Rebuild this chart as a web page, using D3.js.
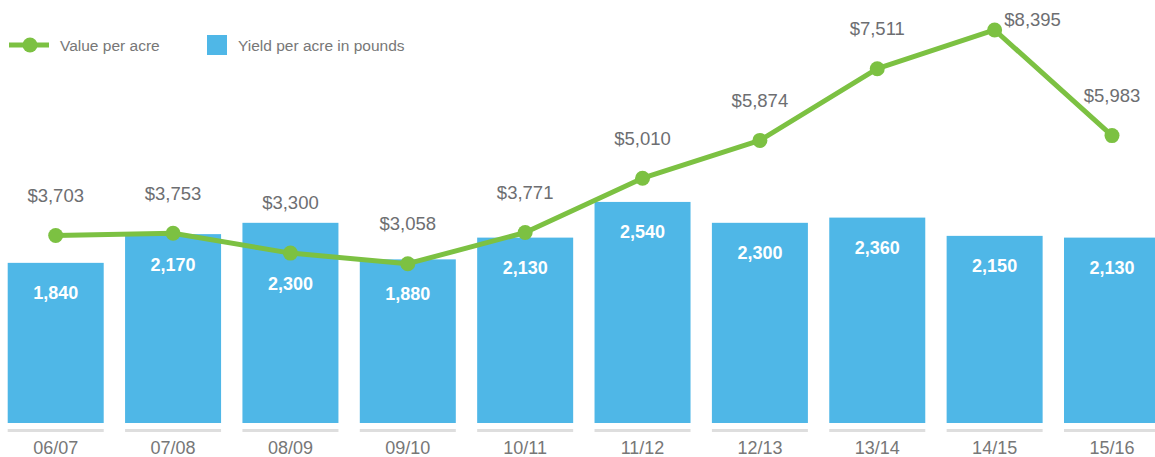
<!DOCTYPE html>
<html><head><meta charset="utf-8">
<script src="https://cdn.jsdelivr.net/npm/d3@7"></script>
<style>body{margin:0;background:#fff}svg{display:block}</style>
</head><body>
<script>
const seasons = ["06/07","07/08","08/09","09/10","10/11","11/12","12/13","13/14","14/15","15/16"];
const yieldPerAcre = [1840,2170,2300,1880,2130,2540,2300,2360,2150,2130];
const valuePerAcre = [3703,3753,3300,3058,3771,5010,5874,7511,8395,5983];
const legendLabels = ["Value per acre","Yield per acre in pounds"];

const W=1155,H=457;
const green="#7cc142", blue="#4fb7e7", grey="#6d6e71";
const svg=d3.select("body").append("svg").attr("width",W).attr("height",H);
const font="'Liberation Sans', Arial, Helvetica, sans-serif";

const x=d3.scaleBand().domain(seasons).range([7.7,1160]).paddingInner(0.182).paddingOuter(0);
const yBar=d3.scaleLinear().domain([0,4860]).range([423,0]);
const yLine=d3.scaleLinear().domain([0,9000]).range([397.6,3.5]);

// bars
svg.selectAll("rect.bar").data(seasons).join("rect").attr("class","bar")
  .attr("x",d=>x(d)).attr("width",x.bandwidth())
  .attr("y",(d,i)=>yBar(yieldPerAcre[i])).attr("height",(d,i)=>yBar(0)-yBar(yieldPerAcre[i]))
  .attr("fill",blue);

// baseline segments
svg.selectAll("rect.base").data(seasons).join("rect").attr("class","base")
  .attr("x",d=>x(d)).attr("width",x.bandwidth()).attr("y",429).attr("height",3).attr("fill","#dedede");

// axis labels
const xAxis=d3.axisBottom(x).tickSize(0).tickPadding(0);
const ax=svg.append("g").attr("transform","translate(0,441)").call(xAxis);
ax.select(".domain").remove();
ax.selectAll("text").attr("font-family",font).attr("font-size",18).attr("fill","#777").attr("dy","0.71em");

const cx=d=>x(d)+x.bandwidth()/2;

// bar labels (kept clear of the line)
svg.selectAll("text.bl").data(seasons).join("text").attr("class","bl")
  .attr("x",cx)
  .attr("y",(d,i)=>Math.max(yBar(yieldPerAcre[i])+30, yLine(valuePerAcre[i])+30)+6.5)
  .attr("text-anchor","middle").attr("font-family",font).attr("font-weight","bold")
  .attr("font-size",18).attr("fill","#fff").text((d,i)=>d3.format(",")(yieldPerAcre[i]));

// line
svg.append("path").datum(seasons)
  .attr("d",d3.line().x(cx).y((d,i)=>yLine(valuePerAcre[i])))
  .attr("fill","none").attr("stroke",green).attr("stroke-width",5).attr("stroke-linejoin","round");
svg.selectAll("circle.pt").data(seasons).join("circle").attr("class","pt")
  .attr("cx",cx).attr("cy",(d,i)=>yLine(valuePerAcre[i])).attr("r",7.5).attr("fill",green);

// value labels
const maxV=d3.max(valuePerAcre);
svg.selectAll("text.vl").data(seasons).join("text").attr("class","vl")
  .attr("x",(d,i)=>cx(d)+(valuePerAcre[i]===maxV?38:0))
  .attr("y",(d,i)=>{
    const py=yLine(valuePerAcre[i]);
    if(valuePerAcre[i]===maxV) return py-10+6.5;
    return Math.min(py-40, yBar(yieldPerAcre[i])-20)+6.5;
  })
  .attr("text-anchor","middle").attr("font-family",font).attr("font-size",18.5).attr("fill",grey)
  .text((d,i)=>"$"+d3.format(",")(valuePerAcre[i]));

// legend
const lg=svg.append("g");
lg.append("line").attr("x1",9).attr("x2",49).attr("y1",45).attr("y2",45).attr("stroke",green).attr("stroke-width",5);
lg.append("circle").attr("cx",30).attr("cy",45).attr("r",7.5).attr("fill",green);
lg.append("text").attr("x",60).attr("y",50.5).attr("font-family",font).attr("font-size",15.5).attr("fill","#777").text(legendLabels[0]);
lg.append("rect").attr("x",207).attr("y",35).attr("width",20).attr("height",20).attr("fill",blue);
lg.append("text").attr("x",238).attr("y",50.5).attr("font-family",font).attr("font-size",15.5).attr("fill","#777").text(legendLabels[1]);
</script>
</body></html>
